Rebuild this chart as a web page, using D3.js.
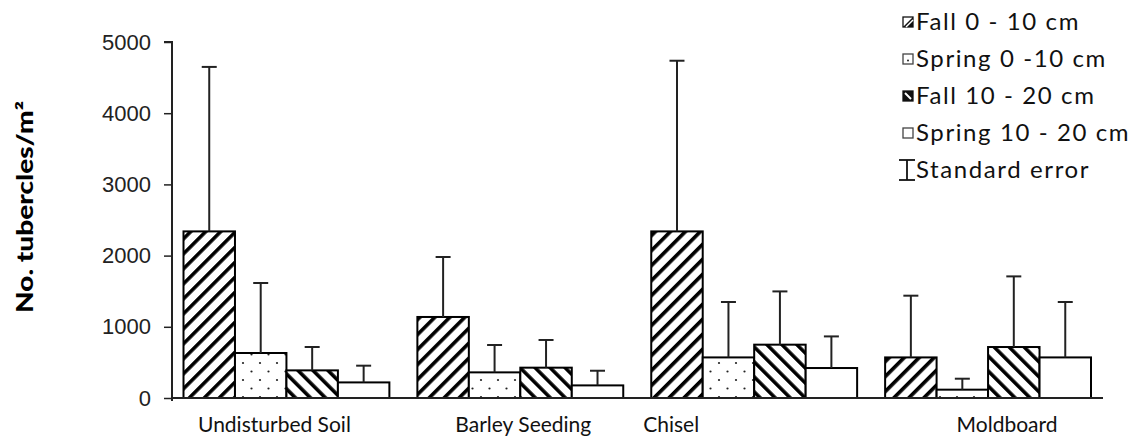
<!DOCTYPE html>
<html>
<head>
<meta charset="utf-8">
<script src="https://cdn.jsdelivr.net/npm/d3@7"></script>
<style>
  html, body { margin: 0; padding: 0; background: #fff; }
  svg { display: block; }
</style>
</head>
<body>
<svg id="chart" width="1139" height="436"></svg>
<script>
// ---- data ----
const categories = ["Undisturbed Soil", "Barley Seeding", "Chisel", "Moldboard"];
const seriesNames = ["Fall 0 - 10 cm", "Spring 0  -10 cm", "Fall 10 - 20 cm", "Spring 10 - 20 cm"];
const fall0_10   = [2340, 1138, 2340, 570];
const spring0_10 = [632, 360, 570, 117];
const fall10_20  = [388, 426, 749, 716];
const spring10_20 = [219, 177, 421, 570];
const seFall0_10   = [2310, 842, 2397, 867];
const seSpring0_10 = [983, 384, 778, 154];
const seFall10_20  = [328, 389, 748, 992];
const seSpring10_20 = [235, 206, 444, 778];
const yTicks = [0, 1000, 2000, 3000, 4000, 5000];
const yTitle = "No. tubercles/m²";
const seLabel = "Standard error";

// ---- layout ----
const svg = d3.select("#chart");
const axisX = 172;
const x0 = d3.scaleBand().domain(categories).range([169.5, 1105]).padding(0);
const x1 = d3.scaleBand().domain(seriesNames).range([14, x0.bandwidth() - 14]).padding(0);
const y = d3.scaleLinear().domain([0, 5000]).range([398, 42]);
const labelShift = [-12, 3, -83, 19]; // category label offsets from band centre (px)

const values = [fall0_10, spring0_10, fall10_20, spring10_20];
const errors = [seFall0_10, seSpring0_10, seFall10_20, seSpring10_20];
const fills = ["url(#pFwd)", "url(#pDots)", "url(#pBack)", "#fff"];

// ---- patterns ----
const defs = svg.append("defs");
const pf = defs.append("pattern").attr("id", "pFwd").attr("patternUnits", "userSpaceOnUse")
  .attr("width", 10.6).attr("height", 10.6).attr("patternTransform", "rotate(45)");
pf.append("rect").attr("width", 10.6).attr("height", 10.6).attr("fill", "#fff");
pf.append("rect").attr("x", 0).attr("y", 0).attr("width", 3.6).attr("height", 10.6).attr("fill", "#000");
const pb = defs.append("pattern").attr("id", "pBack").attr("patternUnits", "userSpaceOnUse")
  .attr("width", 10.6).attr("height", 10.6).attr("patternTransform", "rotate(-45)");
pb.append("rect").attr("width", 10.6).attr("height", 10.6).attr("fill", "#fff");
pb.append("rect").attr("x", 0).attr("y", 0).attr("width", 3.6).attr("height", 10.6).attr("fill", "#000");
const pd = defs.append("pattern").attr("id", "pDots").attr("patternUnits", "userSpaceOnUse")
  .attr("x", 1).attr("y", 2).attr("width", 17).attr("height", 17);
pd.append("rect").attr("width", 17).attr("height", 17).attr("fill", "#fff");
pd.append("circle").attr("cx", 4).attr("cy", 4).attr("r", 1.1).attr("fill", "#222");
pd.append("circle").attr("cx", 12.5).attr("cy", 12.5).attr("r", 1.1).attr("fill", "#222");

// ---- bars ----
const data = [];
categories.forEach((c, ci) => {
  seriesNames.forEach((s, si) => {
    data.push({ c, ci, s, si, v: values[si][ci], e: errors[si][ci] });
  });
});

const g = svg.append("g");
g.selectAll("rect.bar").data(data).enter().append("rect")
  .attr("class", "bar")
  .attr("x", d => x0(d.c) + x1(d.s))
  .attr("y", d => y(d.v))
  .attr("width", x1.bandwidth())
  .attr("height", d => y(0) - y(d.v))
  .attr("fill", d => fills[d.si])
  .attr("stroke", "#000")
  .attr("stroke-width", 2);

// error bars (upper only)
const eb = g.selectAll("g.err").data(data).enter().append("g").attr("class", "err");
eb.append("line")
  .attr("x1", d => x0(d.c) + x1(d.s) + x1.bandwidth() / 2)
  .attr("x2", d => x0(d.c) + x1(d.s) + x1.bandwidth() / 2)
  .attr("y1", d => y(d.v))
  .attr("y2", d => y(d.v + d.e))
  .attr("stroke", "#222").attr("stroke-width", 2);
eb.append("line")
  .attr("x1", d => x0(d.c) + x1(d.s) + x1.bandwidth() / 2 - 7.5)
  .attr("x2", d => x0(d.c) + x1(d.s) + x1.bandwidth() / 2 + 7.5)
  .attr("y1", d => y(d.v + d.e))
  .attr("y2", d => y(d.v + d.e))
  .attr("stroke", "#222").attr("stroke-width", 2);

// ---- axes ----
const yAxis = d3.axisLeft(y).tickValues(yTicks).tickSize(8).tickPadding(13).tickFormat(d3.format("d"));
const ya = svg.append("g").attr("transform", `translate(${axisX},0)`).call(yAxis);
ya.select(".domain").attr("stroke", "#222").attr("stroke-width", 2).attr("d", `M-8,${y(5000)}H0V${y(0) + 3}`);
ya.selectAll(".tick line").attr("stroke", "#222").attr("stroke-width", 1.5);
ya.selectAll(".tick text").attr("font-family", "Liberation Sans, Arial, sans-serif")
  .attr("font-size", 22).attr("fill", "#222");

svg.append("line").attr("x1", axisX - 1).attr("x2", x0.range()[1] - 2)
  .attr("y1", y(0)).attr("y2", y(0)).attr("stroke", "#222").attr("stroke-width", 2);

// category labels
svg.selectAll("text.cat").data(categories).enter().append("text")
  .attr("class", "cat")
  .attr("x", (d, i) => x0(d) + x0.bandwidth() / 2 + labelShift[i])
  .attr("y", 432)
  .attr("text-anchor", "middle")
  .attr("font-family", "Lato, sans-serif")
  .attr("font-size", 21)
  .attr("fill", "#111")
  .text(d => d);

// y title
svg.append("text")
  .attr("transform", "translate(33,207) rotate(-90)")
  .attr("text-anchor", "middle")
  .attr("font-family", "Lato, sans-serif")
  .attr("font-weight", "900")
  .attr("font-size", 22)
  .attr("textLength", 212)
  .attr("lengthAdjust", "spacingAndGlyphs")
  .attr("fill", "#000")
  .text(yTitle);

// ---- legend ----
const legY = [22, 59, 96, 133];
const lx = 903;
const leg = svg.append("g");
seriesNames.forEach((s, i) => {
  const gy = legY[i];
  const m = leg.append("g").attr("transform", `translate(${lx},${gy - 5})`);
  if (i === 0) {
    m.append("rect").attr("width", 10).attr("height", 10).attr("fill", "#fff").attr("stroke", "#111").attr("stroke-width", 1.3);
    m.append("path").attr("d", "M10,0L10,10L0,10Z").attr("fill", "#111");
    m.append("line").attr("x1", 3).attr("y1", 10).attr("x2", 10).attr("y2", 3).attr("stroke", "#fff").attr("stroke-width", 1.5);
  } else if (i === 2) {
    m.append("rect").attr("width", 10).attr("height", 10).attr("fill", "#111").attr("stroke", "#111").attr("stroke-width", 1.3);
    m.append("line").attr("x1", 2).attr("y1", 2).attr("x2", 8).attr("y2", 8).attr("stroke", "#fff").attr("stroke-width", 2);
  } else {
    m.append("rect").attr("width", 10).attr("height", 10).attr("fill", "#fff").attr("stroke", "#444").attr("stroke-width", 1.3);
    if (i === 1) m.append("circle").attr("cx", 5).attr("cy", 6.5).attr("r", 1).attr("fill", "#222");
  }
  leg.append("text").attr("x", lx + 13).attr("y", gy).attr("dy", "0.35em")
    .attr("font-family", "Lato, sans-serif").attr("font-size", 24).attr("letter-spacing", 1.6).attr("fill", "#111")
    .text(s);
});
// standard error legend
const seY = 170;
const se = leg.append("g").attr("transform", `translate(${lx + 4},${seY})`);
se.append("line").attr("x1", -8).attr("x2", 8).attr("y1", -10).attr("y2", -10).attr("stroke", "#111").attr("stroke-width", 1.8);
se.append("line").attr("x1", -8).attr("x2", 8).attr("y1", 10).attr("y2", 10).attr("stroke", "#111").attr("stroke-width", 1.8);
se.append("line").attr("x1", 0).attr("x2", 0).attr("y1", -10).attr("y2", 10).attr("stroke", "#111").attr("stroke-width", 1.8);
leg.append("text").attr("x", lx + 13).attr("y", seY).attr("dy", "0.35em")
  .attr("font-family", "Lato, sans-serif").attr("font-size", 24).attr("letter-spacing", 1.6).attr("fill", "#111")
  .text(seLabel);
</script>
</body>
</html>
